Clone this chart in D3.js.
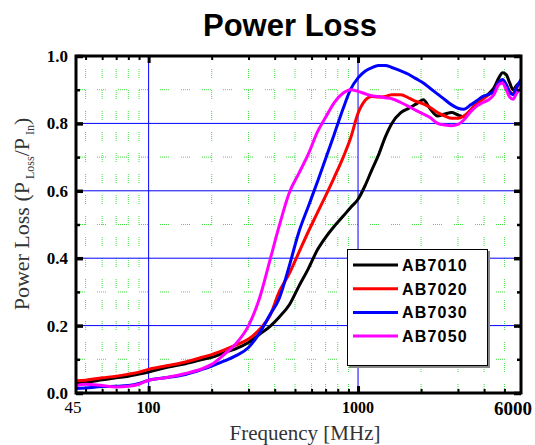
<!DOCTYPE html>
<html>
<head>
<meta charset="utf-8">
<script src="https://cdn.jsdelivr.net/npm/d3@7"></script>
<style>
  body { margin: 0; background: #fff; }
  svg { display: block; }
</style>
</head>
<body>
<svg width="535" height="445"></svg>
<script>
// frequency points (MHz)
const freqs = [45, 50, 60, 70, 80, 90, 100, 120, 150, 180, 200, 230, 260, 300, 340, 380, 420, 470, 520, 580,
  640, 700, 770, 850, 920, 1000, 1080, 1160, 1250, 1350, 1450, 1600, 1750, 1900, 2050, 2200, 2400, 2600, 2800,
  3000, 3200, 3450, 3700, 3950, 4200, 4450, 4700, 4900, 5100, 5300, 5500, 5700, 6000];

const ab7010 = [0.030, 0.032, 0.039, 0.045, 0.050, 0.056, 0.062, 0.075, 0.087, 0.099, 0.106, 0.120, 0.131, 0.150,
  0.175, 0.198, 0.225, 0.262, 0.315, 0.370, 0.425, 0.462, 0.495, 0.525, 0.550, 0.575, 0.615, 0.660, 0.705, 0.760,
  0.800, 0.832, 0.845, 0.858, 0.870, 0.845, 0.822, 0.828, 0.832, 0.825, 0.820, 0.840, 0.862, 0.875, 0.888, 0.905,
  0.935, 0.950, 0.945, 0.920, 0.900, 0.912, 0.925];

const ab7020 = [0.036, 0.038, 0.045, 0.050, 0.056, 0.062, 0.070, 0.080, 0.092, 0.106, 0.114, 0.128, 0.142, 0.160,
  0.190, 0.230, 0.300, 0.355, 0.415, 0.480, 0.535, 0.585, 0.640, 0.700, 0.755, 0.830, 0.868, 0.880, 0.878, 0.880,
  0.885, 0.885, 0.875, 0.865, 0.858, 0.848, 0.832, 0.822, 0.815, 0.815, 0.822, 0.840, 0.860, 0.872, 0.885, 0.895,
  0.922, 0.928, 0.915, 0.895, 0.888, 0.905, 0.920];

const ab7030 = [0.013, 0.015, 0.019, 0.020, 0.022, 0.028, 0.038, 0.045, 0.055, 0.070, 0.080, 0.095, 0.110, 0.135,
  0.180, 0.233, 0.280, 0.378, 0.475, 0.555, 0.627, 0.695, 0.768, 0.845, 0.900, 0.935, 0.955, 0.965, 0.972, 0.972,
  0.966, 0.956, 0.945, 0.932, 0.920, 0.905, 0.887, 0.870, 0.855, 0.845, 0.842, 0.855, 0.868, 0.880, 0.886, 0.895,
  0.922, 0.930, 0.915, 0.892, 0.885, 0.905, 0.930];

const ab7050 = [0.022, 0.026, 0.022, 0.018, 0.020, 0.026, 0.038, 0.045, 0.058, 0.072, 0.085, 0.115, 0.145, 0.200,
  0.285, 0.395, 0.495, 0.595, 0.650, 0.710, 0.775, 0.818, 0.862, 0.890, 0.900, 0.895, 0.888, 0.882, 0.880, 0.876,
  0.873, 0.862, 0.850, 0.838, 0.828, 0.818, 0.800, 0.795, 0.793, 0.797, 0.810, 0.835, 0.852, 0.862, 0.870, 0.885,
  0.915, 0.920, 0.900, 0.878, 0.872, 0.888, 0.905];

const seriesNames = ['AB7010', 'AB7020', 'AB7030', 'AB7050'];
const seriesValues = [ab7010, ab7020, ab7030, ab7050];
const seriesColors = ['#000000', '#ff0000', '#0000ff', '#ff00ff'];

const xMajor = [100, 1000];
const xMinor = [50, 60, 70, 80, 90, 200, 300, 400, 500, 600, 700, 800, 900, 2000, 3000, 4000, 5000];
const xLabels = [45, 100, 1000, 6000];
const yMajor = [0, 0.2, 0.4, 0.6, 0.8, 1.0];
const yMinor = [0.1, 0.3, 0.5, 0.7, 0.9];

const svg = d3.select('svg');
const pL = 76, pR = 521, pT = 56, pB = 393;

const x = d3.scaleLog().domain([45, 6000]).range([pL, pR]);
const y = d3.scaleLinear().domain([0, 1]).range([pB, pT]);

// title
svg.append('text')
  .attr('x', 290).attr('y', 36)
  .attr('text-anchor', 'middle')
  .attr('font-family', 'Liberation Sans, Arial, sans-serif')
  .attr('font-weight', 'bold')
  .attr('font-size', 31)
  .text('Power Loss');

// minor grid, green broken lines
const dash = '1,1,1,1,1,1,1,1,1,12';
svg.append('g').selectAll('line').data(xMinor).join('line')
  .attr('x1', d => x(d)).attr('x2', d => x(d))
  .attr('y1', pB).attr('y2', pT)
  .attr('stroke', '#44e044').attr('stroke-width', 1)
  .attr('stroke-dasharray', dash);
svg.append('g').selectAll('line').data(yMinor).join('line')
  .attr('x1', pL).attr('x2', pR)
  .attr('y1', d => y(d)).attr('y2', d => y(d))
  .attr('stroke', '#44e044').attr('stroke-width', 1)
  .attr('stroke-dasharray', dash);

// major grid, blue
svg.append('g').selectAll('line').data(xMajor).join('line')
  .attr('x1', d => x(d)).attr('x2', d => x(d))
  .attr('y1', pB).attr('y2', pT)
  .attr('stroke', '#0000ff').attr('stroke-width', 1);
svg.append('g').selectAll('line').data([0.2, 0.4, 0.6, 0.8]).join('line')
  .attr('x1', pL).attr('x2', pR)
  .attr('y1', d => y(d)).attr('y2', d => y(d))
  .attr('stroke', '#0000ff').attr('stroke-width', 1);

// curves
const line = d3.line()
  .x(d => x(d[0]))
  .y(d => y(d[1]))
  .curve(d3.curveMonotoneX);

const plot = svg.append('g');
seriesValues.forEach((vals, i) => {
  plot.append('path')
    .datum(freqs.map((f, j) => [f, vals[j]]))
    .attr('fill', 'none')
    .attr('stroke', seriesColors[i])
    .attr('stroke-width', 3)
    .attr('stroke-linejoin', 'round')
    .attr('d', line);
});

// ticks, pointing inward
function ticks(axis, values, size, width, tx, ty) {
  const g = svg.append('g')
    .attr('transform', `translate(${tx},${ty})`)
    .call(axis.tickValues(values).tickSize(size).tickFormat(''));
  g.select('.domain').remove();
  g.selectAll('line').attr('stroke', '#000').attr('stroke-width', width);
}
ticks(d3.axisBottom(x), xMinor, -4, 2, 0, pB);
ticks(d3.axisBottom(x), xMajor, -7, 3, 0, pB);
ticks(d3.axisTop(x), xMinor, -4, 2, 0, pT);
ticks(d3.axisTop(x), xMajor, -7, 3, 0, pT);
ticks(d3.axisLeft(y), yMinor, -4, 2.5, pL, 0);
ticks(d3.axisLeft(y), yMajor, -7, 3.5, pL, 0);
ticks(d3.axisRight(y), yMinor, -4, 2.5, pR, 0);
ticks(d3.axisRight(y), yMajor, -7, 3.5, pR, 0);

// frame
svg.append('rect')
  .attr('x', pL).attr('y', pT)
  .attr('width', pR - pL).attr('height', pB - pT)
  .attr('fill', 'none').attr('stroke', '#000').attr('stroke-width', 3);

// y tick labels
svg.append('g').selectAll('text').data(yMajor).join('text')
  .attr('x', 68).attr('y', d => y(d))
  .attr('dy', '0.35em')
  .attr('text-anchor', 'end')
  .attr('font-family', 'Liberation Serif, Times New Roman, serif')
  .attr('font-weight', 'bold')
  .attr('font-size', 17)
  .text(d => d.toFixed(1));

// x tick labels
svg.append('g').selectAll('text').data(xLabels).join('text')
  .attr('x', d => d === 45 ? x(d) - 3 : d === 6000 ? x(d) + 11 : x(d))
  .attr('y', d => d === 6000 ? 415 : 413)
  .attr('text-anchor', d => d === 6000 ? 'end' : 'middle')
  .attr('font-family', 'Liberation Serif, Times New Roman, serif')
  .attr('font-weight', d => d === 45 ? 'normal' : 'bold')
  .attr('font-size', d => d === 45 ? 17 : d === 6000 ? 19 : 16)
  .text(d => d);

// axis titles
svg.append('text')
  .attr('x', 305).attr('y', 440)
  .attr('text-anchor', 'middle')
  .attr('font-family', 'Liberation Serif, Times New Roman, serif')
  .attr('font-size', 21)
  .attr('fill', '#333')
  .text('Frequency [MHz]');

const yt = svg.append('text')
  .attr('transform', 'translate(29,214) rotate(-90)')
  .attr('text-anchor', 'middle')
  .attr('font-family', 'Liberation Serif, Times New Roman, serif')
  .attr('font-size', 22)
  .attr('fill', '#333');
yt.append('tspan').text('Power Loss (P');
yt.append('tspan').attr('font-size', 12).attr('dy', 5).attr('dx', 3).text('Loss');
yt.append('tspan').attr('dy', -5).text('/P');
yt.append('tspan').attr('font-size', 12).attr('dy', 5).attr('dx', 3).text('In');
yt.append('tspan').attr('dy', -5).text(')');

// legend
const lg = svg.append('g');
lg.append('rect')
  .attr('x', 349).attr('y', 251).attr('width', 141).attr('height', 117)
  .attr('fill', '#888');
lg.append('rect')
  .attr('x', 347.5).attr('y', 249.5).attr('width', 140).attr('height', 116)
  .attr('fill', '#fff').attr('stroke', '#000').attr('stroke-width', 1);
seriesNames.forEach((name, i) => {
  const cy = 265 + i * 23.7;
  lg.append('line')
    .attr('x1', 353).attr('x2', 398)
    .attr('y1', cy).attr('y2', cy)
    .attr('stroke', seriesColors[i]).attr('stroke-width', 3);
  lg.append('text')
    .attr('x', 402).attr('y', cy + 6)
    .attr('font-family', 'Liberation Sans, Arial, sans-serif')
    .attr('font-weight', 'bold')
    .attr('font-size', 16)
    .attr('letter-spacing', 1.2)
    .text(name);
});
</script>
</body>
</html>
